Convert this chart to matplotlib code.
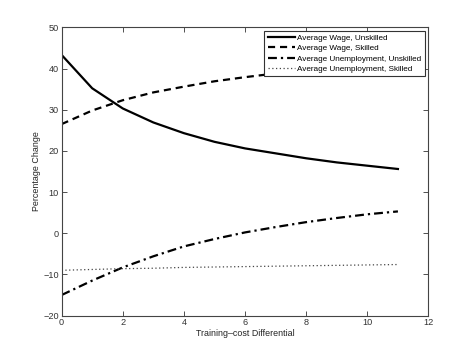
import matplotlib
matplotlib.use("Agg")
import matplotlib.pyplot as plt

x = list(range(12))
wage_unskilled = [43.3, 35.2, 30.3, 26.9, 24.3, 22.2, 20.6, 19.4, 18.2, 17.2, 16.4, 15.6]
wage_skilled = [26.5, 29.8, 32.3, 34.2, 35.6, 36.9, 37.9, 38.8, 39.6, 40.3, 40.9, 41.4]
unemp_unskilled = [-15.0, -11.5, -8.3, -5.6, -3.2, -1.4, 0.2, 1.5, 2.7, 3.7, 4.6, 5.3]
unemp_skilled = [-9.0, -8.8, -8.6, -8.5, -8.3, -8.2, -8.1, -8.0, -7.9, -7.8, -7.7, -7.6]
labels = ["Average Wage, Unskilled", "Average Wage, Skilled",
          "Average Unemployment, Unskilled", "Average Unemployment, Skilled"]

plt.rcParams['font.family'] = ['Liberation Sans', 'DejaVu Sans']
fig = plt.figure(figsize=(4.74, 3.55), dpi=100)
ax = fig.add_axes([0.130, 0.111, 0.774, 0.812])
ax.plot(x, wage_unskilled, color='k', ls='-', lw=1.6, label=labels[0])
ax.plot(x, wage_skilled, color='k', ls=(0, (3.2, 2.2)), lw=1.6, label=labels[1])
ax.plot(x, unemp_unskilled, color='k', ls=(0, (4, 1.8, 1, 1.8)), lw=1.6, label=labels[2])
ax.plot(x, unemp_skilled, color='#444444', ls=(0, (1, 2)), lw=0.9, label=labels[3])
ax.set_xlim(0, 12)
ax.set_ylim(-20, 50)
ax.set_xticks(range(0, 13, 2))
ax.set_yticks(range(-20, 51, 10))
ax.tick_params(direction='in', top=True, right=True, labelsize=6.6, length=3.5, width=0.6,
               colors='#333333', pad=2)
for s in ax.spines.values():
    s.set_linewidth(0.8)
    s.set_color('#444444')
ax.set_xlabel("Training\u2013cost Differential", fontsize=6.4, labelpad=1.5, color='#222222')
ax.set_ylabel("Percentage Change", fontsize=6.4, labelpad=1.5, color='#222222')
leg = ax.legend(loc='upper right', fontsize=5.85, frameon=True, fancybox=False, framealpha=1,
                edgecolor='#333333', borderpad=0.45, labelspacing=0.32,
                handlelength=3.3, handletextpad=0.35, borderaxespad=0.4)
leg.get_frame().set_linewidth(0.8)
fig.savefig("out.png", dpi=100)
